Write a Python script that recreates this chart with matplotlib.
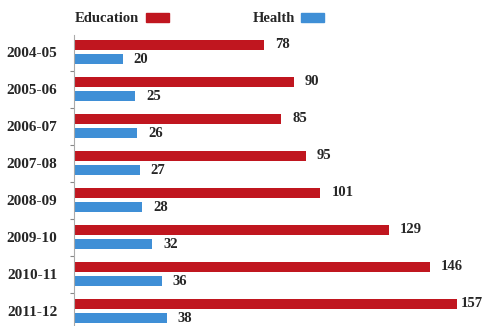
import numpy as np
import matplotlib.pyplot as plt
from matplotlib.patches import Rectangle

# Данные
years = ['2004-05', '2005-06', '2006-07', '2007-08', '2008-09', '2009-10', '2010-11', '2011-12']
education = [78, 90, 85, 95, 101, 129, 146, 157]
health = [20, 25, 26, 27, 28, 32, 36, 38]

red = '#c0161f'
blue = '#3f8fd6'
txt = '#262626'
font = 'Liberation Serif'

fig = plt.figure(figsize=(4.86, 3.26), dpi=100)
ax = fig.add_axes([74 / 486, 0, 412 / 486, 291 / 326])

y = np.arange(len(years))
h = 0.27
ax.barh(y - 0.2, education, height=h, color=red)
ax.barh(y + 0.2, health, height=h, color=blue)

for i in range(len(years)):
    # последняя подпись прижата к столбцу, чтобы не обрезалась
    ax.text(min(education[i] + 4.5, 158.5), y[i] - 0.2, str(education[i]), va='center', ha='left',
            fontsize=10.5, fontweight='bold', color=txt, family=font)
    ax.text(health[i] + 4.5, y[i] + 0.2, str(health[i]), va='center', ha='left',
            fontsize=10.5, fontweight='bold', color=txt, family=font)

ax.set_xlim(0, 412 / 2.44)
ax.set_ylim(7.405, -0.46)

# подписи лет без засечек, засечки между группами
ax.set_yticks(y)
ax.set_yticklabels(years, fontsize=11, fontweight='bold', color=txt, family=font)
ax.tick_params(axis='y', length=0, pad=12)
ax.set_yticks(y[:-1] + 0.5, minor=True)
ax.tick_params(axis='y', which='minor', length=3, width=0.8, color='#888888')
ax.set_xticks([])

for s in ['top', 'right', 'bottom']:
    ax.spines[s].set_visible(False)
ax.spines['left'].set_color('#aaaaaa')
ax.spines['left'].set_linewidth(0.8)

# легенда сверху
fig.text(75 / 486, 1 - 18 / 326, 'Education', fontsize=10.5, color=txt, family=font,
         va='center', ha='left', fontweight='bold')
fig.patches.append(Rectangle((146 / 486, 1 - 22 / 326), 23 / 486, 9 / 326,
                             transform=fig.transFigure, color=red))
fig.text(253 / 486, 1 - 18 / 326, 'Health', fontsize=10.5, color=txt, family=font,
         va='center', ha='left', fontweight='bold')
fig.patches.append(Rectangle((301 / 486, 1 - 22 / 326), 23 / 486, 9 / 326,
                             transform=fig.transFigure, color=blue))

plt.savefig('out.png', dpi=100)
